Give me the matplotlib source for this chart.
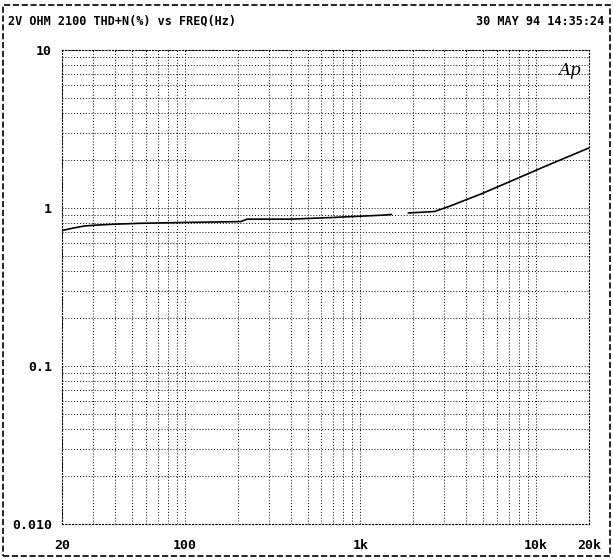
import matplotlib.pyplot as plt
import numpy as np
from matplotlib.patches import Rectangle

# 数据
freq_a = [20, 23, 27, 32, 40, 56, 100, 208, 227, 403, 680, 1318, 1500]
thd_a = [0.72, 0.745, 0.77, 0.78, 0.79, 0.80, 0.81, 0.82, 0.85, 0.85, 0.87, 0.90, 0.91]
freq_b = [1875, 2640, 3170, 4880, 7500, 11700, 20000]
thd_b = [0.93, 0.95, 1.02, 1.23, 1.51, 1.87, 2.4]

xticks = [20, 100, 1000, 10000, 20000]
xtick_labels = ['20', '100', '1k', '10k', '20k']
yticks = [0.01, 0.1, 1, 10]
ytick_labels = ['0.010', '0.1', '1', '10']

title_left = '2V OHM 2100 THD+N(%) vs FREQ(Hz)'
title_right = '30 MAY 94 14:35:24'

fig = plt.figure(figsize=(6.13, 5.59), dpi=100)
ax = fig.add_axes([0.101, 0.0626, 0.860, 0.848])

ax.plot(freq_a, thd_a, color='black', linewidth=1.2)
ax.plot(freq_b, thd_b, color='black', linewidth=1.2)

ax.set_xscale('log')
ax.set_yscale('log')
ax.set_xlim(20, 20000)
ax.set_ylim(0.01, 10)

ax.set_xticks(xticks)
ax.set_xticklabels(xtick_labels)
ax.set_yticks(yticks)
ax.set_yticklabels(ytick_labels)
ax.tick_params(which='both', length=0, labelsize=9.5)
ax.tick_params(axis='x', pad=11)
ax.tick_params(axis='y', pad=7)
for lab in ax.get_xticklabels() + ax.get_yticklabels():
    lab.set_fontfamily('DejaVu Sans Mono')
    lab.set_fontweight('bold')

ax.grid(True, which='both', color='black', linestyle=(0, (1, 2)), linewidth=0.7)
for s in ax.spines.values():
    s.set_linestyle((0, (1, 2)))
    s.set_linewidth(0.8)

ax.text(0.985, 0.975, 'Ap', transform=ax.transAxes, ha='right', va='top',
        fontsize=12, style='italic', family='DejaVu Serif')

fig.text(0.013, 0.962, title_left, ha='left', va='center', fontsize=8.5,
         family='DejaVu Sans Mono', fontweight='bold')
fig.text(0.985, 0.962, title_right, ha='right', va='center', fontsize=8.5,
         family='DejaVu Sans Mono', fontweight='bold')

# 外框
fig.patches.append(Rectangle((0.005, 0.006), 0.99, 0.985, transform=fig.transFigure,
                             fill=False, edgecolor='black', linewidth=1.2, linestyle='--'))

fig.savefig('out.png', dpi=100)
